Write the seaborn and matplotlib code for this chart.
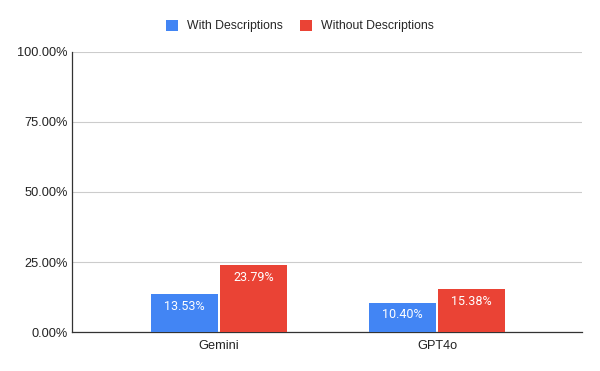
import pandas as pd
import matplotlib.pyplot as plt
import seaborn as sns

# Values (percent)
models = ['Gemini', 'GPT4o']
with_desc = [13.53, 10.40]
without_desc = [23.79, 15.38]
series_names = ['With Descriptions', 'Without Descriptions']
y_ticks = [0, 25, 50, 75, 100]

df = pd.DataFrame({
    'Model': models * 2,
    'Series': [series_names[0]] * 2 + [series_names[1]] * 2,
    'Value': with_desc + without_desc,
})

sns.set_style('white')
plt.rcParams['font.family'] = ['Liberation Sans', 'DejaVu Sans']

fig = plt.figure(figsize=(6, 3.71), dpi=100)
ax = fig.add_axes([0.12, 0.105, 0.85, 0.755])

palette = {series_names[0]: '#4285F4', series_names[1]: '#EA4335'}
sns.barplot(data=df, x='Model', y='Value', hue='Series', palette=palette,
            width=0.635, gap=0.03, linewidth=0, saturation=1, ax=ax, zorder=3)

# white value labels inside the top of each bar
for cont in ax.containers:
    labels = ax.bar_label(cont, fmt='%.2f%%', padding=-4, color='white',
                          fontsize=9, family='Roboto')
    for t in labels:
        t.set_va('top')

ax.set_ylim(0, 100)
ax.set_xlim(-0.674, 1.665)
ax.set_yticks(y_ticks)
ax.set_yticklabels([f'{v:.2f}%' for v in y_ticks])
ax.yaxis.grid(True, color='#cccccc', linewidth=0.8, zorder=0)
ax.tick_params(axis='both', length=0, labelsize=9.2, colors='#222222', pad=3)
ax.tick_params(axis='x', pad=6)
ax.set_xlabel('')
ax.set_ylabel('')

for side in ['top', 'right']:
    ax.spines[side].set_visible(False)
ax.spines['left'].set_color('#333333')
ax.spines['bottom'].set_color('#333333')
ax.spines['left'].set_linewidth(0.9)
ax.spines['bottom'].set_linewidth(0.9)

handles, lbls = ax.get_legend_handles_labels()
ax.legend_.remove()
fig.legend(handles, lbls, loc='center', bbox_to_anchor=(0.5, 0.93), ncol=2,
           frameon=False, fontsize=8.8, handlelength=1.0, handleheight=1.0,
           handletextpad=0.75, columnspacing=1.4)

fig.savefig('out.png', dpi=100)
